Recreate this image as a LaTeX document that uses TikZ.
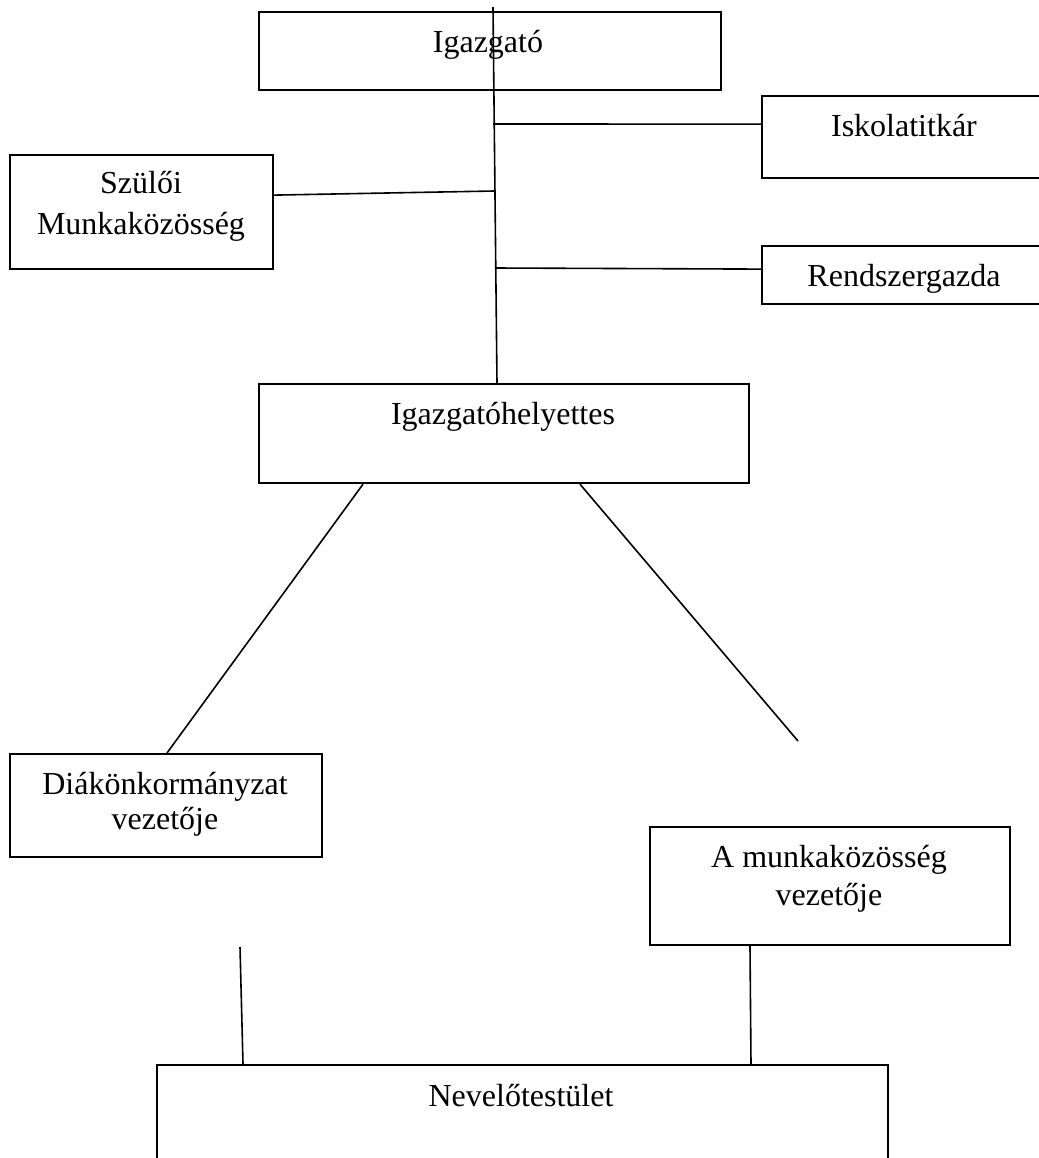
\documentclass[tikz,border=0pt]{standalone}
\usepackage{fontspec}
\setmainfont{Liberation Serif}
\begin{document}
\begin{tikzpicture}[x=0.5pt,y=-0.5pt,
  box/.style={draw, line width=1.1pt, rectangle, inner sep=0pt, anchor=north west},
  conn/.style={line width=0.8pt},
  lbl/.style={anchor=base, inner sep=0pt, font=\fontsize{16}{18}\selectfont}]
\fill[white] (0,0) rectangle (1039,1158);
\useasboundingbox (0,0) rectangle (1039,1158);

% boxes
\node[box, minimum width=231pt, minimum height=39pt] (igaz) at (258,11) {};
\node[box, minimum width=144pt, minimum height=41pt] (iskola) at (761,95) {};
\node[box, minimum width=131.5pt, minimum height=57pt] (szulo) at (9,154) {};
\node[box, minimum width=144pt, minimum height=29pt] (rendszer) at (761,245) {};
\node[box, minimum width=245pt, minimum height=49.5pt] (helyettes) at (258,383) {};
\node[box, minimum width=156pt, minimum height=51.5pt] (diak) at (9,753) {};
\node[box, minimum width=180pt, minimum height=59pt] (munka) at (649,826) {};
\node[box, minimum width=365.5pt, minimum height=55pt] (nevelo) at (156,1064) {};

% texts
\node[lbl] (igazt) at (488,52) {Igazgató};
\node[lbl] (iskolat) at (904,136) {Iskolatitkár};
\node[lbl] (szulot1) at (141,193) {Szülői};
\node[lbl] (szulot2) at (141,234) {Munkaközösség};
\node[lbl] (rendszert) at (904,286) {Rendszergazda};
\node[lbl] (helyettest) at (503,424) {Igazgatóhelyettes};
\node[lbl] (diakt1) at (165,794) {Diákönkormányzat};
\node[lbl] (diakt2) at (165,829) {vezetője};
\node[lbl] (munkat1) at (829,867) {A munkaközösség};
\node[lbl] (munkat2) at (829,905) {vezetője};
\node[lbl] (nevelot) at (521,1106) {Nevelőtestület};

% junction / free-end coordinates
\coordinate (vtop) at (493,7);
\coordinate (j1) at (493,124);
\coordinate (j2) at (494,191);
\coordinate (j3) at (496,268);
\coordinate (dfree) at (798,741);
\coordinate (d2) at (240,947);

% connectors
\draw[conn] (vtop) -- ([xshift=119.5pt]helyettes.north west);
\draw[conn] (j1) -- ([yshift=6.5pt]iskola.west);
\draw[conn] ([yshift=8.5pt]szulo.east) -- (j2);
\draw[conn] (j3) -- ([yshift=3pt]rendszer.west);
\draw[conn] ([xshift=52.5pt]helyettes.south west) -- ([xshift=79pt]diak.north west);
\draw[conn] ([xshift=161pt]helyettes.south west) -- (dfree);
\draw[conn] (d2) -- ([xshift=43.5pt]nevelo.north west);
\draw[conn] ([xshift=50.5pt]munka.south west) -- ([xshift=297.5pt]nevelo.north west);
\end{tikzpicture}
\end{document}
